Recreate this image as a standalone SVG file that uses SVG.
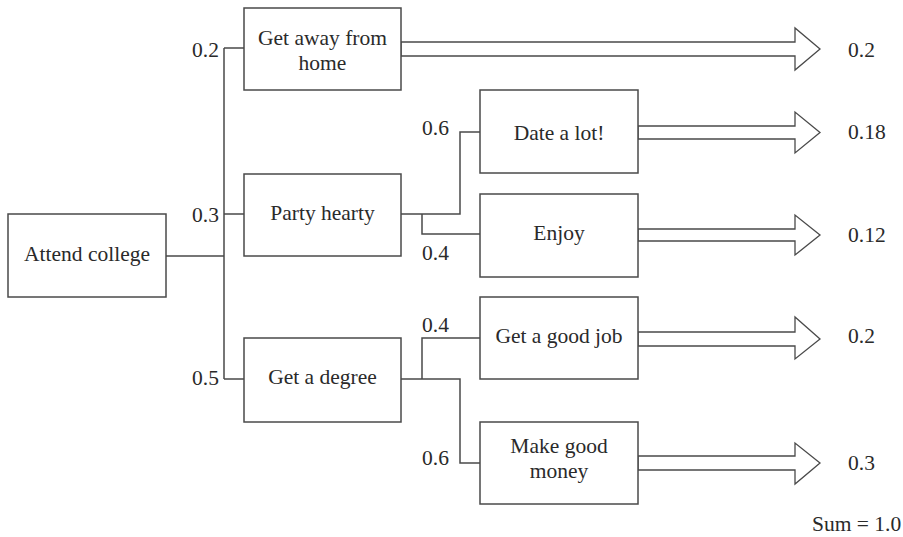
<svg xmlns="http://www.w3.org/2000/svg" width="903" height="537" viewBox="0 0 903 537">
  <style>
    .box { fill: #fff; stroke: #4a4a4a; stroke-width: 1.5; }
    .wire { fill: none; stroke: #4a4a4a; stroke-width: 1.5; }
    .flow { fill: #fff; stroke: #4a4a4a; stroke-width: 1.3; stroke-linejoin: miter; }
    .c { text-anchor: middle; }
  </style>
  <rect width="903" height="537" fill="#fff"/>

  <!-- connectors -->
  <g id="connectors">
    <path class="wire" d="M166,256 H224 M224,48 V379 M224,48 H244 M224,214 H244 M224,379 H244"/>
    <path class="wire" d="M401,214 H460 V132 H480 M422,214 V234 H480"/>
    <path class="wire" d="M401,379 H460 V463 H480 M422,379 V338 H480"/>
    <polygon class="flow" points="401,42 795,42 795,28 820,49 795,70 795,56 401,56"/>
    <polygon class="flow" points="638,126 795,126 795,112 820,132.5 795,153 795,139 638,139"/>
    <polygon class="flow" points="638,229 795,229 795,215 820,235 795,255 795,241 638,241"/>
    <polygon class="flow" points="638,332 795,332 795,317 820,339 795,359 795,346 638,346"/>
    <polygon class="flow" points="638,456 795,456 795,443 820,463 795,484 795,470 638,470"/>
  </g>

  <g font-size="21.5" fill="#2a2a2a">
  <!-- branch probabilities -->
  <g id="labels">
    <text font-family="'Liberation Serif'" x="192" y="57">0.2</text>
    <text font-family="'Liberation Serif'" x="192" y="222">0.3</text>
    <text font-family="'Liberation Serif'" x="192" y="385">0.5</text>
    <text font-family="'Liberation Serif'" x="422" y="135">0.6</text>
    <text font-family="'Liberation Serif'" x="422" y="260">0.4</text>
    <text font-family="'Liberation Serif'" x="422" y="332">0.4</text>
    <text font-family="'Liberation Serif'" x="422" y="465">0.6</text>
    <text font-family="'Liberation Serif'" x="848" y="57">0.2</text>
    <text font-family="'Liberation Serif'" x="848" y="139">0.18</text>
    <text font-family="'Liberation Serif'" x="848" y="242">0.12</text>
    <text font-family="'Liberation Serif'" x="848" y="343">0.2</text>
    <text font-family="'Liberation Serif'" x="848" y="470">0.3</text>
    <text font-family="'Liberation Serif'" x="812" y="531">Sum = 1.0</text>
  </g>

  <g id="attend-college">
    <rect class="box" x="8" y="214" width="158" height="83"/>
    <text font-family="'Liberation Serif'" class="c" x="87" y="261">Attend college</text>
  </g>
  <g id="get-away">
    <rect class="box" x="244" y="8" width="157" height="82"/>
    <text font-family="'Liberation Serif'" class="c" x="322.5" y="45">Get away from</text>
    <text font-family="'Liberation Serif'" class="c" x="322.5" y="70">home</text>
  </g>
  <g id="party-hearty">
    <rect class="box" x="244" y="174" width="157" height="82"/>
    <text font-family="'Liberation Serif'" class="c" x="322.5" y="220">Party hearty</text>
  </g>
  <g id="get-degree">
    <rect class="box" x="244" y="338" width="157" height="84"/>
    <text font-family="'Liberation Serif'" class="c" x="322.5" y="384">Get a degree</text>
  </g>
  <g id="date-a-lot">
    <rect class="box" x="480" y="90" width="158" height="83"/>
    <text font-family="'Liberation Serif'" class="c" x="559" y="140">Date a lot!</text>
  </g>
  <g id="enjoy">
    <rect class="box" x="480" y="194" width="158" height="83"/>
    <text font-family="'Liberation Serif'" class="c" x="559" y="240">Enjoy</text>
  </g>
  <g id="good-job">
    <rect class="box" x="480" y="297" width="158" height="82"/>
    <text font-family="'Liberation Serif'" class="c" x="559" y="343">Get a good job</text>
  </g>
  <g id="good-money">
    <rect class="box" x="480" y="422" width="158" height="82"/>
    <text font-family="'Liberation Serif'" class="c" x="559" y="453">Make good</text>
    <text font-family="'Liberation Serif'" class="c" x="559" y="478">money</text>
  </g>
  </g>
</svg>
